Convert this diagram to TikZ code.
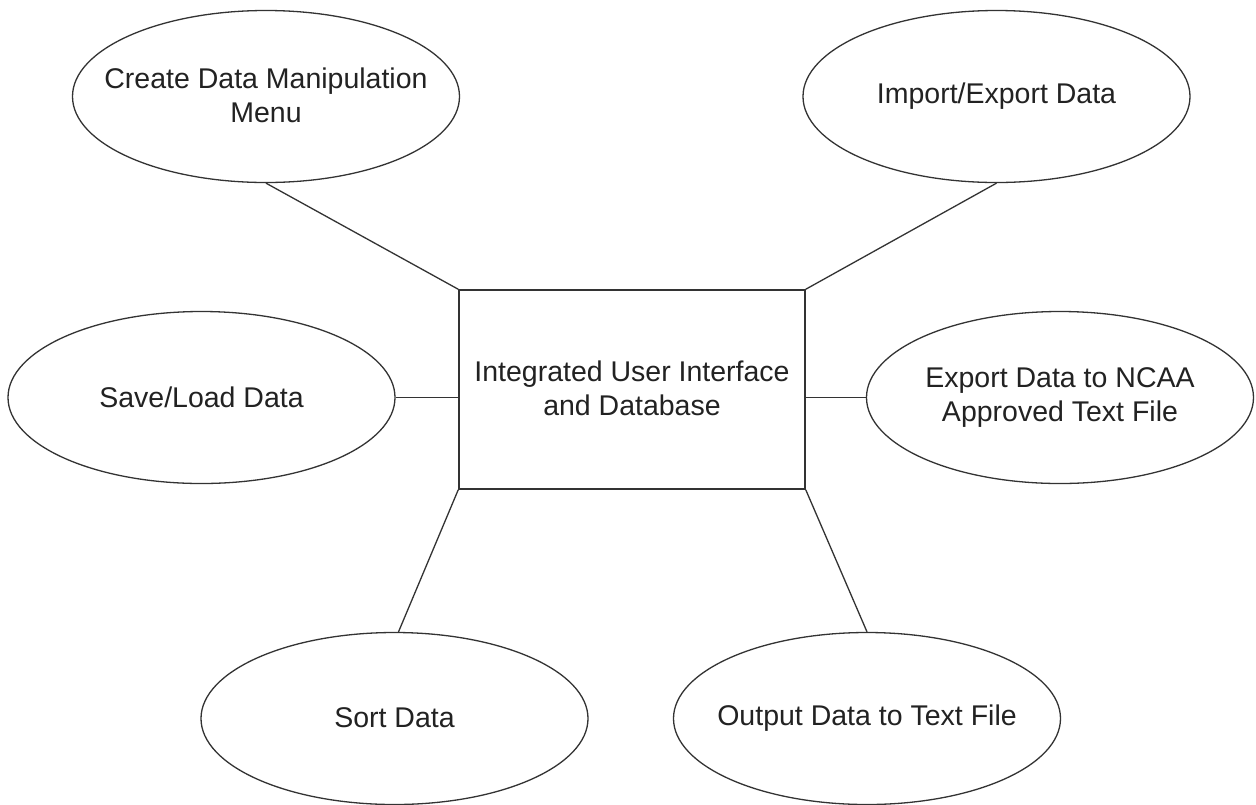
\documentclass[tikz,border=0pt]{standalone}
\usepackage{fontspec}
\setmainfont{Liberation Sans}
\usetikzlibrary{shapes.geometric}
\definecolor{ink}{HTML}{222222}
\definecolor{edge}{HTML}{333333}
\begin{document}
\begin{tikzpicture}[x=1pt,y=-1pt,
  oval/.style={ellipse, draw=edge, line width=1.3pt, minimum width=387pt, minimum height=172pt, inner sep=0pt},
  txt/.style={text=ink, align=center, font=\fontsize{28.5}{34}\selectfont, inner sep=0pt},
  box/.style={draw=edge, line width=1.5pt, minimum width=346pt, minimum height=199pt, inner sep=0pt},
  conn/.style={draw=edge, line width=1.3pt}]
\useasboundingbox (0,0) rectangle (1256,804);
\fill[white] (0,0) rectangle (1256,804);
\node[box] (core) at (632,389.5) {};
\node[txt] (coretxt) at (632,388) {Integrated User Interface\\and Database};
\node[oval] (create) at (266,96.5) {};
\node[txt] (createtxt) at (266,95) {Create Data Manipulation\\Menu};
\node[oval] (import) at (996.5,96.5) {};
\node[txt] (importtxt) at (996.5,96) {Import/Export Data};
\node[oval] (save) at (201.5,397.5) {};
\node[txt] (savetxt) at (201.5,397) {Save/Load Data};
\node[oval] (ncaa) at (1060,397.5) {};
\node[txt] (ncaatxt) at (1060,397) {Export Data to NCAA\\Approved Text File};
\node[oval] (sort) at (394.5,718.5) {};
\node[txt] (sorttxt) at (394.5,718) {Sort Data};
\node[oval] (output) at (867,718.5) {};
\node[txt] (outputtxt) at (867,718) {Output Data to Text File};
\draw[conn] (core.north west) -- (create.south);
\draw[conn] (core.north east) -- (import.south);
\draw[conn] (save.east) -- (save.east -| core.west);
\draw[conn] (ncaa.west) -- (ncaa.west -| core.east);
\draw[conn] (core.south west) -- ([xshift=4pt]sort.north);
\draw[conn] (core.south east) -- (output.north);
\end{tikzpicture}
\end{document}
